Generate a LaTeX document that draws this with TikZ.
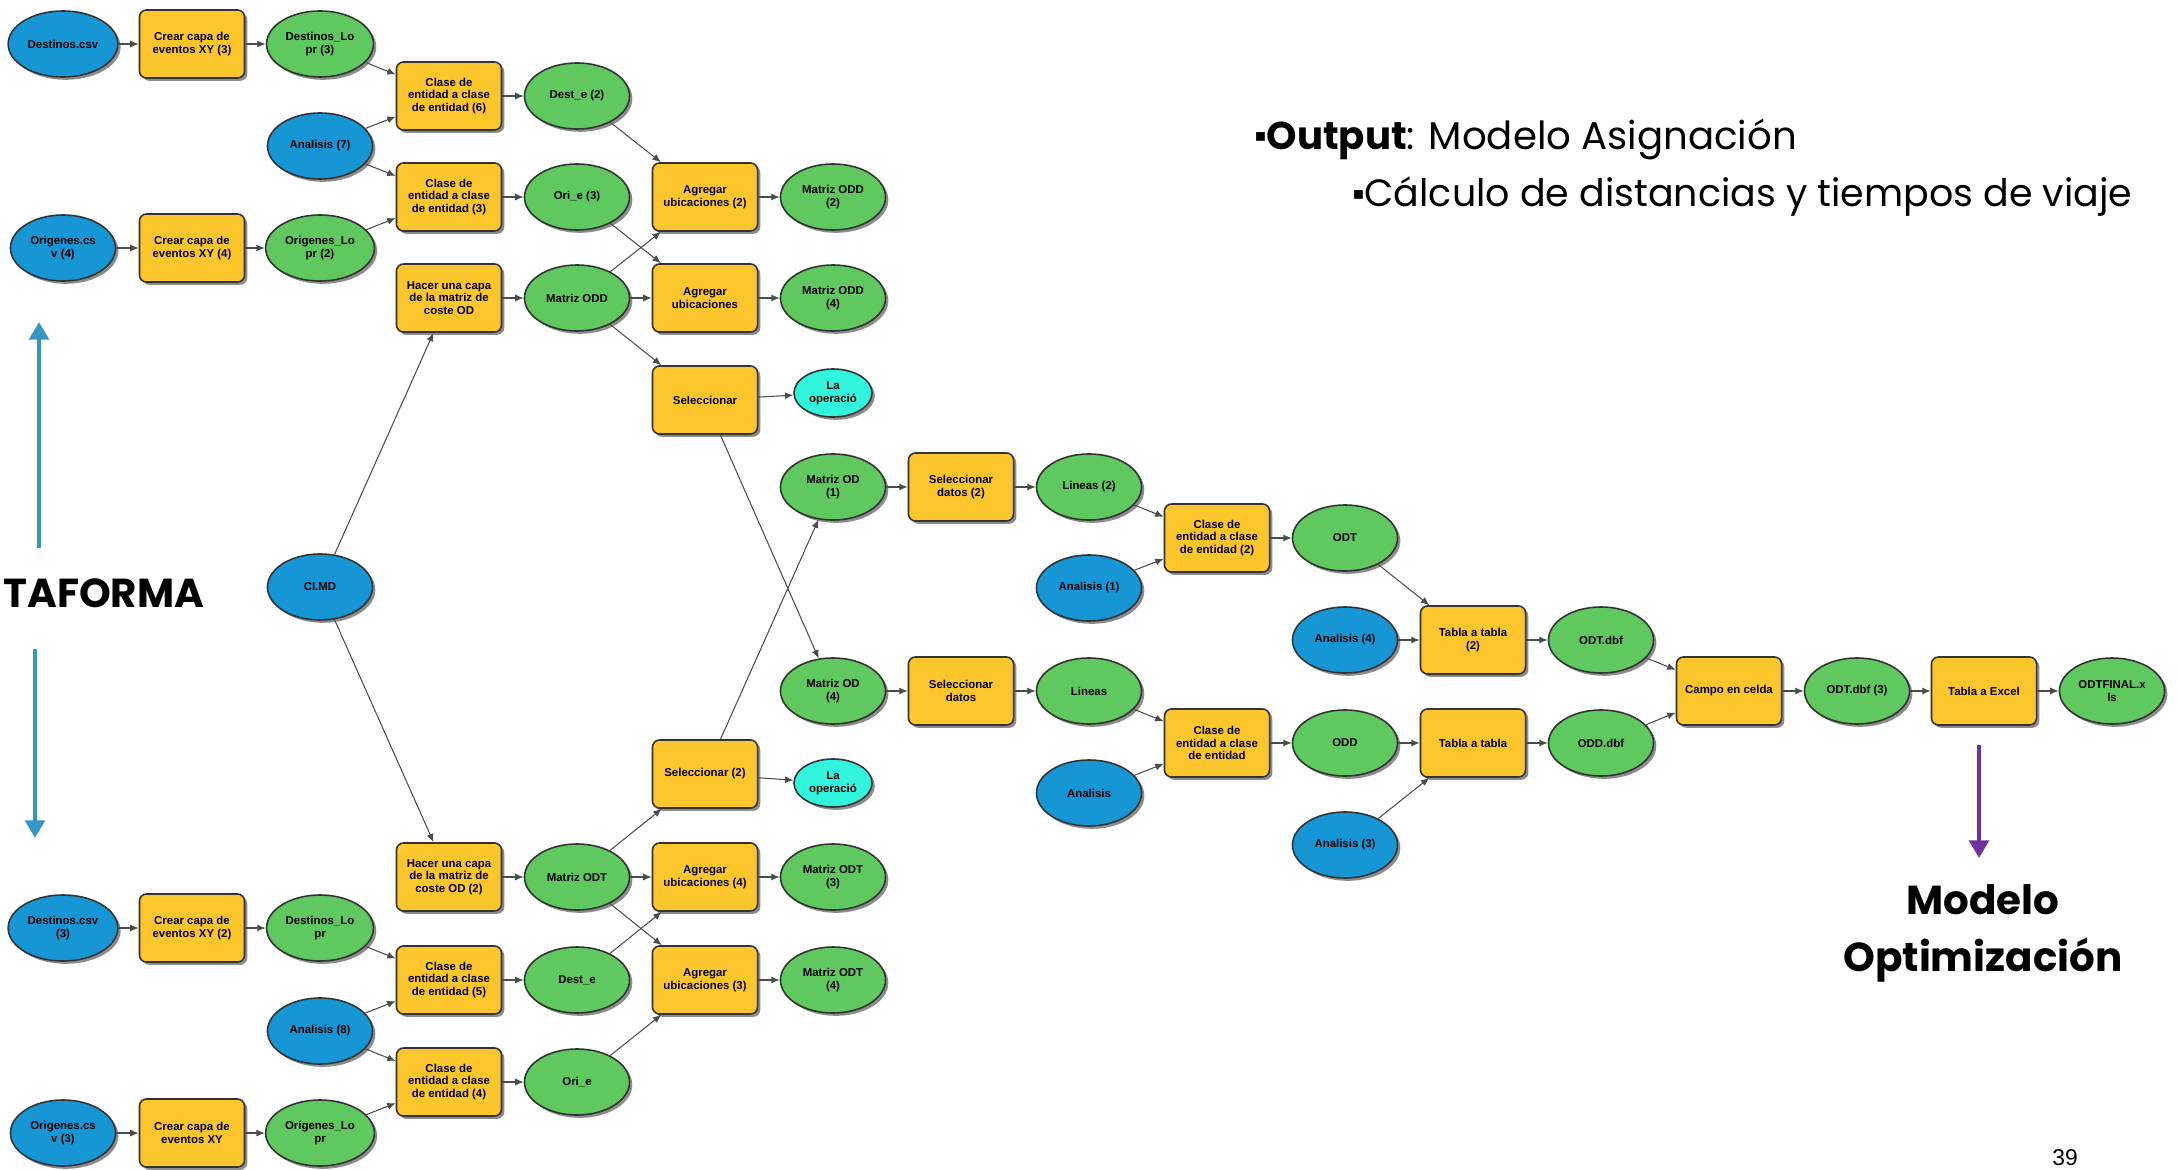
\documentclass[tikz,border=0pt]{standalone}
\usepackage{fontspec}
\setmainfont{Liberation Sans}
\newfontfamily\futura{Poppins}
\newfontfamily\symfont{DejaVu Sans}
\usetikzlibrary{shapes.geometric,shadows,arrows.meta}
\definecolor{inblue}{RGB}{22,150,212}
\definecolor{outgreen}{RGB}{95,200,95}
\definecolor{toolyellow}{RGB}{253,198,45}
\definecolor{opcyan}{RGB}{50,245,222}
\definecolor{arrowblue}{RGB}{52,150,195}
\definecolor{arrowpurple}{RGB}{112,48,160}
\newcommand\sqbul{\raisebox{2.2pt}{\symfont\fontsize{5}{6}\selectfont ▪}}
\begin{document}
\begin{tikzpicture}[x=0.01cm,y=-0.01cm,line join=round,
  font=\fontsize{3.25}{3.6}\selectfont\bfseries,
  base/.style={draw=black!80,line width=0.45pt,align=center,inner sep=1pt,
    drop shadow={shadow xshift=0.8pt,shadow yshift=-0.8pt,opacity=0.45,fill=black}},
  inp/.style={base,ellipse,fill=inblue,minimum width=1.05cm,minimum height=0.66cm},
  outp/.style={base,ellipse,fill=outgreen,minimum width=1.05cm,minimum height=0.66cm},
  tmp/.style={base,ellipse,fill=opcyan,minimum width=0.78cm,minimum height=0.48cm},
  tool/.style={base,rectangle,rounded corners=2pt,fill=toolyellow,minimum width=1.05cm,minimum height=0.68cm},
  lnk/.style={draw=black!70,line width=0.3pt,-{Latex[length=2.4pt,width=2pt]}},
  fat/.style={line width=1.3pt,-{Triangle[length=5pt,width=5.5pt]}},
  big/.style={font=\futura\bfseries\fontsize{11.5}{16.2}\selectfont}]
\useasboundingbox (0,0) rectangle (2179,1170);
% upper branch
\node[inp]  (dcsvA)  at (63,44)   {Destinos.csv};
\node[tool] (xyA)    at (192,44)  {Crear capa de\\eventos XY (3)};
\node[outp] (dloprA) at (320,44)  {Destinos\_Lo\\pr (3)};
\node[tool] (cl6)    at (449,96)  {Clase de\\entidad a clase\\de entidad (6)};
\node[outp] (deA)    at (577,96)  {Dest\_e (2)};
\node[inp]  (an7)    at (320,146) {Analisis (7)};
\node[tool] (cl3)    at (449,197) {Clase de\\entidad a clase\\de entidad (3)};
\node[outp] (oeA)    at (577,197) {Ori\_e (3)};
\node[tool] (agA2)   at (705,197) {Agregar\\ubicaciones (2)};
\node[outp] (moddA2) at (833,197) {Matriz ODD\\(2)};
\node[inp]  (ocsvA)  at (63,248)  {Origenes.cs\\v (4)};
\node[tool] (xyB)    at (192,248) {Crear capa de\\eventos XY (4)};
\node[outp] (oloprA) at (320,248) {Origenes\_Lo\\pr (2)};
\node[tool] (hcA)    at (449,298) {Hacer una capa\\de la matriz de\\coste OD};
\node[outp] (modd)   at (577,298) {Matriz ODD};
\node[tool] (agA)    at (705,298) {Agregar\\ubicaciones};
\node[outp] (moddA4) at (833,298) {Matriz ODD\\(4)};
\node[tool] (selA)   at (705,400) {Seleccionar};
\node[tmp]  (opA)    at (833,393) {La\\operació};
\node[inp]  (cimd)   at (320,587) {CI.MD};
% lower branch
\node[tool] (selB)   at (705,774) {Seleccionar (2)};
\node[tmp]  (opB)    at (833,783) {La\\operació};
\node[tool] (hcB)    at (449,877) {Hacer una capa\\de la matriz de\\coste OD (2)};
\node[outp] (modt)   at (577,877) {Matriz ODT};
\node[tool] (ag4)    at (705,877) {Agregar\\ubicaciones (4)};
\node[outp] (modt3)  at (833,877) {Matriz ODT\\(3)};
\node[inp]  (dcsvB)  at (63,928)  {Destinos.csv\\(3)};
\node[tool] (xyC)    at (192,928) {Crear capa de\\eventos XY (2)};
\node[outp] (dloprB) at (320,928) {Destinos\_Lo\\pr};
\node[tool] (cl5)    at (449,980) {Clase de\\entidad a clase\\de entidad (5)};
\node[outp] (deB)    at (577,980) {Dest\_e};
\node[tool] (ag3)    at (705,980) {Agregar\\ubicaciones (3)};
\node[outp] (modt4)  at (833,980) {Matriz ODT\\(4)};
\node[inp]  (an8)    at (320,1031) {Analisis (8)};
\node[tool] (cl4)    at (449,1082) {Clase de\\entidad a clase\\de entidad (4)};
\node[outp] (oeB)    at (577,1082) {Ori\_e};
\node[inp]  (ocsvB)  at (63,1133) {Origenes.cs\\v (3)};
\node[tool] (xyD)    at (192,1133) {Crear capa de\\eventos XY};
\node[outp] (oloprB) at (320,1133) {Origenes\_Lo\\pr};
% right part
\node[outp] (mod1)   at (833,487)  {Matriz OD\\(1)};
\node[tool] (sd2)    at (961,487)  {Seleccionar\\datos (2)};
\node[outp] (lin2)   at (1089,487) {Lineas (2)};
\node[tool] (cl2)    at (1217,538) {Clase de\\entidad a clase\\de entidad (2)};
\node[outp] (odt)    at (1345,538) {ODT};
\node[inp]  (an1)    at (1089,588) {Analisis (1)};
\node[inp]  (an4)    at (1345,640) {Analisis (4)};
\node[tool] (tt2)    at (1473,640) {Tabla a tabla\\(2)};
\node[outp] (odtdbf) at (1601,640) {ODT.dbf};
\node[outp] (mod4)   at (833,691)  {Matriz OD\\(4)};
\node[tool] (sd)     at (961,691)  {Seleccionar\\datos};
\node[outp] (lin)    at (1089,691) {Lineas};
\node[tool] (cc)     at (1729,691) {Campo en celda};
\node[outp] (odtdbf3) at (1857,691) {ODT.dbf (3)};
\node[tool] (tex)    at (1984,691) {Tabla a Excel};
\node[outp] (fin)    at (2112,691) {ODTFINAL.x\\ls};
\node[tool] (cl)     at (1217,743) {Clase de\\entidad a clase\\de entidad};
\node[outp] (odd)    at (1345,743) {ODD};
\node[tool] (tt)     at (1473,743) {Tabla a tabla};
\node[outp] (odddbf) at (1601,743) {ODD.dbf};
\node[inp]  (an)     at (1089,793) {Analisis};
\node[inp]  (an3)    at (1345,845) {Analisis (3)};
% connectors
\foreach \a/\b in {dcsvA/xyA,xyA/dloprA,dloprA/cl6,an7/cl6,an7/cl3,oloprA/cl3,ocsvA/xyB,xyB/oloprA,
  cl6/deA,cl3/oeA,hcA/modd,deA/agA2,modd/agA2,oeA/agA,modd/agA,agA2/moddA2,agA/moddA4,modd/selA,
  selA/opA,selA/mod4,cimd/hcA,cimd/hcB,selB/mod1,selB/opB,modt/selB,hcB/modt,modt/ag4,modt/ag3,
  deB/ag4,oeB/ag3,ag4/modt3,ag3/modt4,dcsvB/xyC,xyC/dloprB,dloprB/cl5,an8/cl5,an8/cl4,oloprB/cl4,
  ocsvB/xyD,xyD/oloprB,cl5/deB,cl4/oeB,mod1/sd2,sd2/lin2,lin2/cl2,an1/cl2,cl2/odt,odt/tt2,an4/tt2,
  tt2/odtdbf,mod4/sd,sd/lin,lin/cl,an/cl,cl/odd,odd/tt,an3/tt,tt/odddbf,odtdbf/cc,odddbf/cc,
  cc/odtdbf3,odtdbf3/tex,tex/fin}
  \draw[lnk] (\a) -- (\b);
% slide texts
\node[anchor=west,inner sep=0,font=\futura\fontsize{11}{12}\selectfont] (outA) at (1254,139)
  {\sqbul\textbf{Output}: Modelo Asignación};
\node[anchor=west,inner sep=0,font=\futura\fontsize{10.8}{12}\selectfont] (outB) at (1352,197)
  {\sqbul Cálculo de distancias y tiempos de viaje};
\node[big,anchor=east,inner sep=0] (plat) at (205,593) {TAFORMA};
\node[big,align=center,inner sep=0] (mopt) at (1983,933) {Modelo\\Optimización};
\node[font=\fontsize{6.5}{7}\selectfont,inner sep=0] (pg) at (2065,1158) {39};
\coordinate (upS) at (39,548); \coordinate (upE) at (39,322);
\coordinate (dnS) at (35,649); \coordinate (dnE) at (35,838);
\coordinate (ppS) at (1979,745); \coordinate (ppE) at (1979,858);
\draw[fat,arrowblue] (upS) -- (upE);
\draw[fat,arrowblue] (dnS) -- (dnE);
\draw[fat,arrowpurple] (ppS) -- (ppE);
\end{tikzpicture}
\end{document}
